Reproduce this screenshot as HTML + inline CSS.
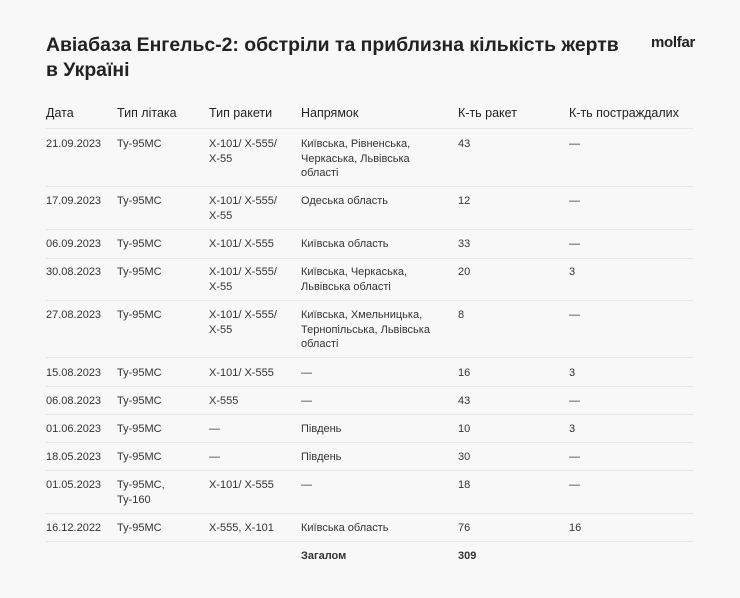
<!DOCTYPE html>
<html><head><meta charset="utf-8"><style>
body{margin:0;width:740px;height:598px;background:#f8f8f8;font-family:"Liberation Sans","DejaVu Sans",sans-serif;color:#333;overflow:hidden;position:relative}
.t{position:absolute;left:46px;top:33px;font-size:19.4px;line-height:25px;font-weight:bold;color:#222;width:620px}
.logo{position:absolute;left:651px;top:34px;font-size:15px;font-weight:bold;color:#222;letter-spacing:-0.3px}
.r{position:absolute;left:46px;width:647px;font-size:11px;line-height:14.5px}
.r div{position:absolute;top:0}
.h{font-size:12.5px;color:#222}
.ln{position:absolute;left:46px;width:647px;height:1px;background:#e6e6e6}
.c1{left:0}.c2{left:71px}.c3{left:163px;width:80px}.c4{left:255px;width:150px}.c5{left:412px}.c6{left:523px}
</style></head><body>
<div class="t">Авіабаза Енгельс-2: обстріли та приблизна кількість жертв<br>в Україні</div>
<div class="logo">molfar</div>

<div class="r h" style="top:106px"><div class="c1">Дата</div><div class="c2">Тип літака</div><div class="c3" style="width:auto">Тип ракети</div><div class="c4">Напрямок</div><div class="c5">К-ть ракет</div><div class="c6">К-ть постраждалих</div></div>
<div class="ln" style="top:128px"></div>

<div class="r" style="top:137px"><div class="c1">21.09.2023</div><div class="c2">Ту-95МС</div><div class="c3">Х-101/ Х-555/<br>Х-55</div><div class="c4">Київська, Рівненська,<br>Черкаська, Львівська<br>області</div><div class="c5">43</div><div class="c6">—</div></div>
<div class="ln" style="top:186px"></div>

<div class="r" style="top:194px"><div class="c1">17.09.2023</div><div class="c2">Ту-95МС</div><div class="c3">Х-101/ Х-555/<br>Х-55</div><div class="c4">Одеська область</div><div class="c5">12</div><div class="c6">—</div></div>
<div class="ln" style="top:229px"></div>

<div class="r" style="top:237px"><div class="c1">06.09.2023</div><div class="c2">Ту-95МС</div><div class="c3">Х-101/ Х-555</div><div class="c4">Київська область</div><div class="c5">33</div><div class="c6">—</div></div>
<div class="ln" style="top:258px"></div>

<div class="r" style="top:265px"><div class="c1">30.08.2023</div><div class="c2">Ту-95МС</div><div class="c3">Х-101/ Х-555/<br>Х-55</div><div class="c4">Київська, Черкаська,<br>Львівська області</div><div class="c5">20</div><div class="c6">3</div></div>
<div class="ln" style="top:300px"></div>

<div class="r" style="top:308px"><div class="c1">27.08.2023</div><div class="c2">Ту-95МС</div><div class="c3">Х-101/ Х-555/<br>Х-55</div><div class="c4">Київська, Хмельницька,<br>Тернопільська, Львівська<br>області</div><div class="c5">8</div><div class="c6">—</div></div>
<div class="ln" style="top:357px"></div>

<div class="r" style="top:366px"><div class="c1">15.08.2023</div><div class="c2">Ту-95МС</div><div class="c3">Х-101/ Х-555</div><div class="c4">—</div><div class="c5">16</div><div class="c6">3</div></div>
<div class="ln" style="top:386px"></div>

<div class="r" style="top:394px"><div class="c1">06.08.2023</div><div class="c2">Ту-95МС</div><div class="c3">Х-555</div><div class="c4">—</div><div class="c5">43</div><div class="c6">—</div></div>
<div class="ln" style="top:414px"></div>

<div class="r" style="top:422px"><div class="c1">01.06.2023</div><div class="c2">Ту-95МС</div><div class="c3">—</div><div class="c4">Південь</div><div class="c5">10</div><div class="c6">3</div></div>
<div class="ln" style="top:442px"></div>

<div class="r" style="top:450px"><div class="c1">18.05.2023</div><div class="c2">Ту-95МС</div><div class="c3">—</div><div class="c4">Південь</div><div class="c5">30</div><div class="c6">—</div></div>
<div class="ln" style="top:470px"></div>

<div class="r" style="top:478px"><div class="c1">01.05.2023</div><div class="c2">Ту-95МС,<br>Ту-160</div><div class="c3">Х-101/ Х-555</div><div class="c4">—</div><div class="c5">18</div><div class="c6">—</div></div>
<div class="ln" style="top:513px"></div>

<div class="r" style="top:521px"><div class="c1">16.12.2022</div><div class="c2">Ту-95МС</div><div class="c3">Х-555, Х-101</div><div class="c4">Київська область</div><div class="c5">76</div><div class="c6">16</div></div>
<div class="ln" style="top:541px"></div>

<div class="r" style="top:549px;font-weight:bold"><div class="c4">Загалом</div><div class="c5">309</div></div>
</body></html>
